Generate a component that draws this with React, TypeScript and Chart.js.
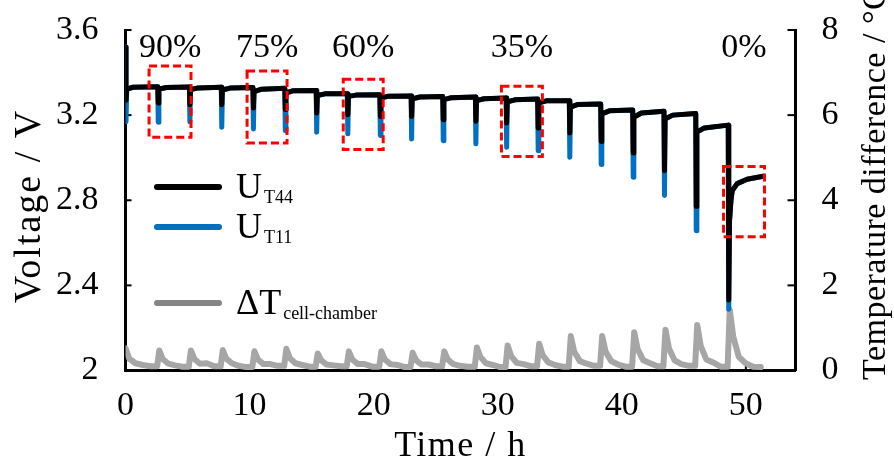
import React, { useEffect, useRef } from "react";
import { Chart, registerables } from "chart.js";

Chart.register(...registerables);

const FONT_FAMILY = '"Liberation Serif", "Times New Roman", serif';

// ---- axes ----
const timeTicks = [0, 10, 20, 30, 40, 50];
const voltageTicks = [2, 2.4, 2.8, 3.2, 3.6];
const tempTicks = [0, 2, 4, 6, 8];

const xTitle = "Time / h";
const yLeftTitle = "Voltage / V";
const yRightTitle = "Temperature difference / °C";

// ---- legend ----
const seriesNames = ["U", "U", "ΔT"];
const seriesSubscripts = ["T44", "T11", "cell-chamber"];

// ---- voltage: start of test ----
const startTimes = [0, 0.04, 0.1, 0.6];
const startBlack = [3.52, 3.27, 3.322, 3.331];
const startBlue = [3.52, 3.169, 3.322, 3.331];

// ---- voltage: pulses (h, V) ----
const pulseTimes = [2.6, 5.15, 7.72, 10.27, 12.84, 15.37, 17.88, 20.5, 23.02, 25.57, 28.2, 30.68, 33.22, 35.77, 38.3, 40.88, 43.4, 45.96, 48.58];
const levelBefore = [3.333, 3.332, 3.331, 3.33, 3.326, 3.316, 3.3, 3.296, 3.29, 3.288, 3.285, 3.281, 3.276, 3.268, 3.252, 3.224, 3.218, 3.208, 3.153];
const blackMin = [3.257, 3.249, 3.249, 3.233, 3.226, 3.21, 3.202, 3.194, 3.194, 3.178, 3.171, 3.163, 3.139, 3.116, 3.076, 3.022, 2.939, 2.771, 2.331];
const blueMin = [3.167, 3.169, 3.143, 3.135, 3.127, 3.12, 3.112, 3.104, 3.088, 3.08, 3.065, 3.049, 3.033, 3.002, 2.968, 2.908, 2.822, 2.657, 2.288];
const levelAfter = [3.322, 3.32, 3.318, 3.31, 3.304, 3.292, 3.288, 3.28, 3.276, 3.273, 3.268, 3.262, 3.258, 3.238, 3.206, 3.19, 3.182, 3.12];
const levelRelaxed = [3.33, 3.328, 3.327, 3.322, 3.315, 3.3, 3.294, 3.289, 3.285, 3.282, 3.277, 3.272, 3.267, 3.25, 3.22, 3.21, 3.2, 3.14];

// ---- voltage: recovery after the last pulse ----
const endTimes = [48.68, 48.8, 48.9, 49.3, 50.1, 51.4];
const endVoltage = [2.7, 2.8, 2.845, 2.878, 2.899, 2.913];

// ---- temperature difference (°C) ----
const tempStartTimes = [0, 0.3, 0.8, 1.4, 2.0];
const tempStart = [0.52, 0.28, 0.17, 0.13, 0.1];
const tempPeak = [0.47, 0.47, 0.48, 0.45, 0.51, 0.4, 0.45, 0.45, 0.42, 0.45, 0.54, 0.59, 0.63, 0.81, 0.81, 0.9, 0.96, 1.07, 1.43];
const tempFall = [0.27, 0.27, 0.28, 0.26, 0.29, 0.24, 0.26, 0.26, 0.24, 0.26, 0.32, 0.34, 0.36, 0.44, 0.44, 0.5, 0.52, 0.58, 0.8];
const tempTail = [0.16, 0.16, 0.17, 0.15, 0.17, 0.14, 0.15, 0.15, 0.14, 0.15, 0.17, 0.18, 0.19, 0.22, 0.22, 0.24, 0.24, 0.26, 0.32];
const tempBump = [0.12, 0.17, 0.11, 0.15, 0.13, 0.12, 0.15, 0.13, 0.14, 0.11, 0.13, 0.15, 0.13, 0.16, 0.14, 0.17, 0.15, 0.19, 0.17];
const tempBase = [0.09, 0.1, 0.08, 0.11, 0.09, 0.1, 0.09, 0.08, 0.1, 0.09, 0.08, 0.1, 0.09, 0.11, 0.09, 0.1, 0.11, 0.09, 0.09];
const tempEndTime = 51.2;
const tempEnd = 0.08;

// ---- highlighted SOC windows ----
const boxLabels = ["90%", "75%", "60%", "35%", "0%"];
const boxStart = [1.9, 9.8, 17.55, 30.3, 48.2];
const boxEnd = [5.28, 13.02, 20.77, 33.6, 51.5];
const boxTop = [3.431, 3.407, 3.369, 3.336, 2.959];
const boxBottom = [3.096, 3.069, 3.039, 3.006, 2.629];

type P = { x: number; y: number };

function buildVoltage(startVals: number[], mins: number[]): P[] {
  const pts: P[] = startTimes.map((t, i) => ({ x: t, y: startVals[i] }));
  pulseTimes.forEach((t, i) => {
    pts.push({ x: t, y: levelBefore[i] });
    pts.push({ x: t + 0.04, y: mins[i] });
    if (i < levelAfter.length) {
      pts.push({ x: t + 0.09, y: levelAfter[i] });
      pts.push({ x: t + 0.7, y: levelRelaxed[i] });
    }
  });
  endTimes.forEach((t, i) => pts.push({ x: t, y: endVoltage[i] }));
  return pts;
}

function buildTemperature(): P[] {
  const pts: P[] = tempStartTimes.map((t, i) => ({ x: t, y: tempStart[i] }));
  pulseTimes.forEach((t, i) => {
    const prev = i === 0 ? tempStart[tempStart.length - 1] : tempBase[i - 1];
    pts.push({ x: t - 0.05, y: prev });
    pts.push({ x: t + 0.12, y: tempPeak[i] });
    pts.push({ x: t + 0.4, y: tempFall[i] });
    pts.push({ x: t + 0.85, y: tempTail[i] });
    pts.push({ x: t + 1.4, y: tempBump[i] });
    pts.push({ x: t + 2.0, y: tempBase[i] });
  });
  pts.push({ x: tempEndTime, y: tempEnd });
  return pts;
}

const COLORS = { black: "#000000", blue: "#0070C0", gray: "#A6A6A6", grayLegend: "#858585", red: "#FF0000" };

function font(size: number) {
  return `${size}px ${FONT_FAMILY}`;
}

const overlayPlugin = {
  id: "overlay",
  beforeDatasetsDraw(chart: any) {
    const { ctx, chartArea: a, scales } = chart;
    ctx.save();
    ctx.strokeStyle = "#000";
    ctx.lineWidth = 2;
    const seg = (x1: number, y1: number, x2: number, y2: number) => {
      ctx.beginPath();
      ctx.moveTo(x1, y1);
      ctx.lineTo(x2, y2);
      ctx.stroke();
    };
    voltageTicks.forEach((v) => {
      if (v === voltageTicks[0]) return;
      const y = scales.yV.getPixelForValue(v);
      seg(a.left, y, a.left + 6, y);
    });
    tempTicks.forEach((v) => {
      if (v === tempTicks[0]) return;
      const y = scales.yT.getPixelForValue(v);
      seg(a.right - 8, y, a.right, y);
    });
    timeTicks.forEach((v) => {
      const x = scales.x.getPixelForValue(v);
      seg(x, a.bottom, x, a.bottom - 6);
    });
    ctx.restore();
  },
  afterDatasetsDraw(chart: any) {
    const { ctx, chartArea: a, scales } = chart;
    const xs = scales.x;
    const yv = scales.yV;
    ctx.save();

    // red dashed boxes + SOC labels
    ctx.strokeStyle = COLORS.red;
    ctx.lineWidth = 3;
    ctx.setLineDash([8, 4]);
    boxLabels.forEach((lab, i) => {
      const x1 = xs.getPixelForValue(boxStart[i]);
      const x2 = xs.getPixelForValue(boxEnd[i]);
      const y1 = yv.getPixelForValue(boxTop[i]);
      const y2 = yv.getPixelForValue(boxBottom[i]);
      ctx.strokeRect(x1, y1, x2 - x1, y2 - y1);
    });
    ctx.setLineDash([]);
    ctx.fillStyle = "#000";
    ctx.font = font(34);
    ctx.textAlign = "center";
    ctx.textBaseline = "alphabetic";
    boxLabels.forEach((lab, i) => {
      const cx = (xs.getPixelForValue(boxStart[i]) + xs.getPixelForValue(boxEnd[i])) / 2;
      ctx.fillText(lab, cx, a.top + 27);
    });

    // legend
    const legendColors = [COLORS.black, COLORS.blue, COLORS.grayLegend];
    const legendRows = [187, 227, 303];
    ctx.lineCap = "round";
    ctx.lineWidth = 6;
    seriesNames.forEach((name, i) => {
      const y = legendRows[i];
      ctx.strokeStyle = legendColors[i];
      ctx.beginPath();
      ctx.moveTo(157, y);
      ctx.lineTo(219, y);
      ctx.stroke();
      ctx.fillStyle = "#000";
      ctx.textAlign = "left";
      ctx.font = font(36);
      ctx.fillText(name, 236, y + 11);
      const w = ctx.measureText(name).width;
      ctx.font = font(18);
      ctx.fillText(seriesSubscripts[i], 236 + w + 2, y + 16);
    });

    // axis titles
    ctx.fillStyle = "#000";
    ctx.textAlign = "center";
    ctx.textBaseline = "middle";
    (ctx as any).letterSpacing = "1.5px";
    ctx.font = font(36);
    ctx.fillText(xTitle, (a.left + a.right) / 2, 447);

    ctx.save();
    (ctx as any).letterSpacing = "2px";
    ctx.font = font(38);
    ctx.translate(30, 206);
    ctx.rotate(-Math.PI / 2);
    ctx.fillText(yLeftTitle, 0, 0);
    ctx.restore();

    ctx.save();
    (ctx as any).letterSpacing = "0.5px";
    ctx.font = font(34);
    ctx.translate(876, 380);
    ctx.rotate(-Math.PI / 2);
    ctx.textAlign = "left";
    ctx.fillText(yRightTitle, 0, 0);
    ctx.restore();

    ctx.restore();
  },
};

export default function App() {
  const ref = useRef<HTMLCanvasElement>(null);
  useEffect(() => {
    if (!ref.current) return;
    const tickFont = { family: FONT_FAMILY, size: 34 };
    const fixPad = (s: any) => {
      s.paddingTop = 0;
      s.paddingBottom = 0;
      s.paddingLeft = 0;
      s.paddingRight = 0;
    };
    const chart = new Chart(ref.current, {
      type: "line",
      data: {
        datasets: [
          {
            label: "U_T44",
            data: buildVoltage(startBlack, blackMin),
            borderColor: COLORS.black,
            borderWidth: 5,
            pointRadius: 0,
            tension: 0,
            borderJoinStyle: "round",
            borderCapStyle: "round",
            yAxisID: "yV",
          },
          {
            label: "U_T11",
            data: buildVoltage(startBlue, blueMin),
            borderColor: COLORS.blue,
            borderWidth: 5,
            pointRadius: 0,
            tension: 0,
            borderJoinStyle: "round",
            borderCapStyle: "round",
            yAxisID: "yV",
          },
          {
            label: "ΔT_cell-chamber",
            data: buildTemperature(),
            borderColor: COLORS.gray,
            borderWidth: 6,
            pointRadius: 0,
            tension: 0,
            borderJoinStyle: "round",
            borderCapStyle: "round",
            yAxisID: "yT",
          },
        ],
      },
      options: {
        responsive: false,
        animation: false,
        events: [],
        layout: { padding: { top: 30, left: 0, right: 0, bottom: 0 } },
        plugins: { legend: { display: false }, tooltip: { enabled: false } },
        scales: {
          x: {
            type: "linear",
            position: "bottom",
            min: 0,
            max: 54,
            afterBuildTicks: (s: any) => {
              s.ticks = timeTicks.map((v) => ({ value: v }));
            },
            afterFit: (s: any) => {
              s.height = 101.5;
              fixPad(s);
            },
            ticks: {
              font: tickFont,
              color: "#000",
              padding: 15,
              maxRotation: 0,
              autoSkip: false,
              callback: (v: any) => String(v),
            },
            grid: { display: false, drawTicks: false },
            border: { display: true, color: "#000", width: 3 },
          },
          yV: {
            type: "linear",
            position: "left",
            min: 2,
            max: 3.6,
            afterBuildTicks: (s: any) => {
              s.ticks = voltageTicks.map((v) => ({ value: v }));
            },
            afterFit: (s: any) => {
              s.width = 125.5;
              fixPad(s);
            },
            ticks: {
              font: tickFont,
              color: "#000",
              padding: 27,
              autoSkip: false,
              callback: (v: any) => String(Number(Number(v).toFixed(1))),
            },
            grid: { display: false, drawTicks: false },
            border: { display: true, color: "#000", width: 3 },
          },
          yT: {
            type: "linear",
            position: "right",
            min: 0,
            max: 8,
            afterBuildTicks: (s: any) => {
              s.ticks = tempTicks.map((v) => ({ value: v }));
            },
            afterFit: (s: any) => {
              s.width = 98.5;
              fixPad(s);
            },
            ticks: {
              font: tickFont,
              color: "#000",
              padding: 26,
              autoSkip: false,
              callback: (v: any) => String(v),
            },
            grid: { display: false, drawTicks: false },
            border: { display: true, color: "#000", width: 3 },
          },
        },
      },
      plugins: [overlayPlugin],
    } as any);
    return () => chart.destroy();
  }, []);
  return (
    <div style={{ position: "absolute", left: 0, top: 0, width: 894, height: 472, background: "#fff" }}>
      <canvas ref={ref} width={894} height={472} style={{ display: "block", width: 894, height: 472 }} />
    </div>
  );
}
